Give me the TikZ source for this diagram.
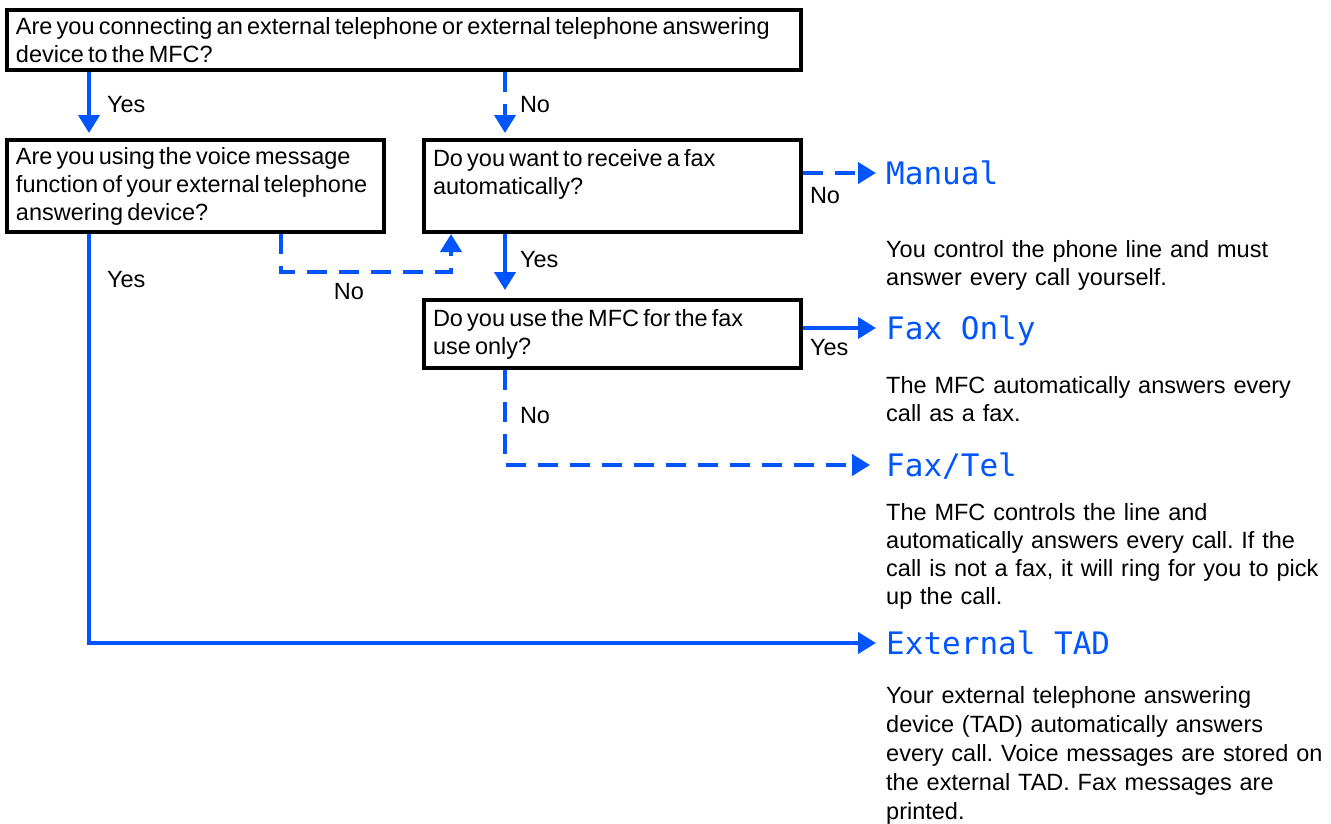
\documentclass[tikz,border=0pt]{standalone}
\usepackage{fontspec}
\setmainfont{Liberation Sans}
\newfontfamily\lcdfont{DejaVu Sans Mono}
\usepackage{xcolor}
\usetikzlibrary{arrows.meta, positioning}
\definecolor{flowblue}{RGB}{0,85,255}
\frenchspacing
\hyphenpenalty=10000
\exhyphenpenalty=10000
\newcommand{\tightwords}{\spaceskip=4.2pt plus 1pt minus 1pt\relax}

\begin{document}
\begin{tikzpicture}[x=1pt, y=1pt, >={Triangle[length=18pt, width=21pt]},
        % Node Styles
        question/.style={rectangle, draw, line width=4pt, align=left, inner xsep=9pt, inner ysep=0pt, font=\fontsize{23.5}{28}\selectfont, text width=359pt, minimum height=92pt},
        result/.style={inner sep=0pt, font=\lcdfont\fontsize{31}{31}\selectfont, text=flowblue, text height=22pt, text depth=0pt},
        remark/.style={inner sep=0pt, align=left, font=\fontsize{23.5}{28}\selectfont, text width=444pt},
        answer/.style={inner sep=0pt, font=\fontsize{23.5}{28}\selectfont},
        yesarrow/.style={->, line width=4pt, draw=flowblue},
        noarrow/.style={->, line width=4pt, draw=flowblue, dash pattern=on 20pt off 12pt}
    ]
    \useasboundingbox (0,0) rectangle (1331,-823);

    % --- 1. Question Boxes ---
    \node[question, text width=776pt, minimum height=60pt, anchor=north west] (connect) at (5,-8) {\tightwords Are you connecting an external telephone or external telephone answering\\device to the MFC?};
    \node[question, below=66pt of connect.south west, anchor=north west] (voice) {\tightwords Are you using the voice message\\function of your external telephone\\answering device?};
    \node[question, right=36pt of voice.north east, anchor=north west] (auto) {\tightwords Do you want to receive a fax\\automatically?\\\mbox{}};
    \node[question, minimum height=68pt, below=64pt of auto.south west, anchor=north west] (faxuse) {\tightwords Do you use the MFC for the fax\\use only?};

    % --- 2. Receive Modes ---
    \node[result, right=83pt of auto.north east, yshift=-35pt] (manual) {Manual};
    \node[result, below=155pt of manual.west, anchor=west] (faxonly) {Fax Only};
    \node[result, below=137pt of faxonly.west, anchor=west] (faxtel) {Fax/Tel};
    \node[result, below=178pt of faxtel.west, anchor=west] (ext) {External TAD};

    % --- 3. Mode Descriptions ---
    \node[remark, below=56pt of manual.south west, anchor=north west] (manualtxt) {You control the phone line and must\\answer every call yourself.};
    \node[remark, below=37pt of faxonly.south west, anchor=north west] (faxonlytxt) {The MFC automatically answers every\\call as a fax.};
    \node[remark, below=27pt of faxtel.south west, anchor=north west] (faxteltxt) {The MFC controls the line and\\automatically answers every call. If the\\call is not a fax, it will ring for you to pick\\up the call.};
    \node[remark, font=\fontsize{23.5}{29}\selectfont, below=32pt of ext.south west, anchor=north west] (exttxt) {Your external telephone answering\\device (TAD) automatically answers\\every call. Voice messages are stored on\\the external TAD. Fax messages are\\printed.};

    % --- Routing Connections ---
    \coordinate (yesx) at ([xshift=84pt]voice.north west);
    \coordinate (nox) at ([xshift=83pt]auto.north west);
    \coordinate (loopa) at ([xshift=276pt]voice.south west);
    \coordinate (loopb) at ([xshift=29pt]auto.south west);

    % First question
    \draw[yesarrow, shorten >=5pt] (yesx |- connect.south) -- node[answer, right=16pt] {Yes} (yesx);
    \draw[noarrow, shorten >=5pt] (nox |- connect.south) -- node[answer, right=13pt] {No} (nox);

    % Voice message question
    \draw[yesarrow, shorten >=10pt] (yesx |- voice.south) |- node[answer, pos=0.056, right=16pt] {Yes} (ext.west);
    \draw[noarrow] (loopa) -- ++(0,-38) -| node[answer, pos=0.2, below=9pt] {No} (loopb);

    % Automatic question
    \draw[yesarrow, shorten >=8pt] (nox |- auto.south) -- node[answer, pos=0.4, right=13pt] {Yes} (nox |- faxuse.north);
    \draw[noarrow, shorten >=10pt] (auto.east |- manual.west) -- node[answer, pos=0, below right=12pt and 5pt] {No} (manual.west);

    % Fax only question
    \draw[yesarrow, shorten >=10pt] (faxuse.east |- faxonly.west) -- node[answer, pos=0, below right=9pt and 5pt] {Yes} (faxonly.west);
    \draw[noarrow, shorten >=16pt] (nox |- faxuse.south) |- node[answer, pos=0.24, right=13pt] {No} (faxtel.west);

\end{tikzpicture}
\end{document}
